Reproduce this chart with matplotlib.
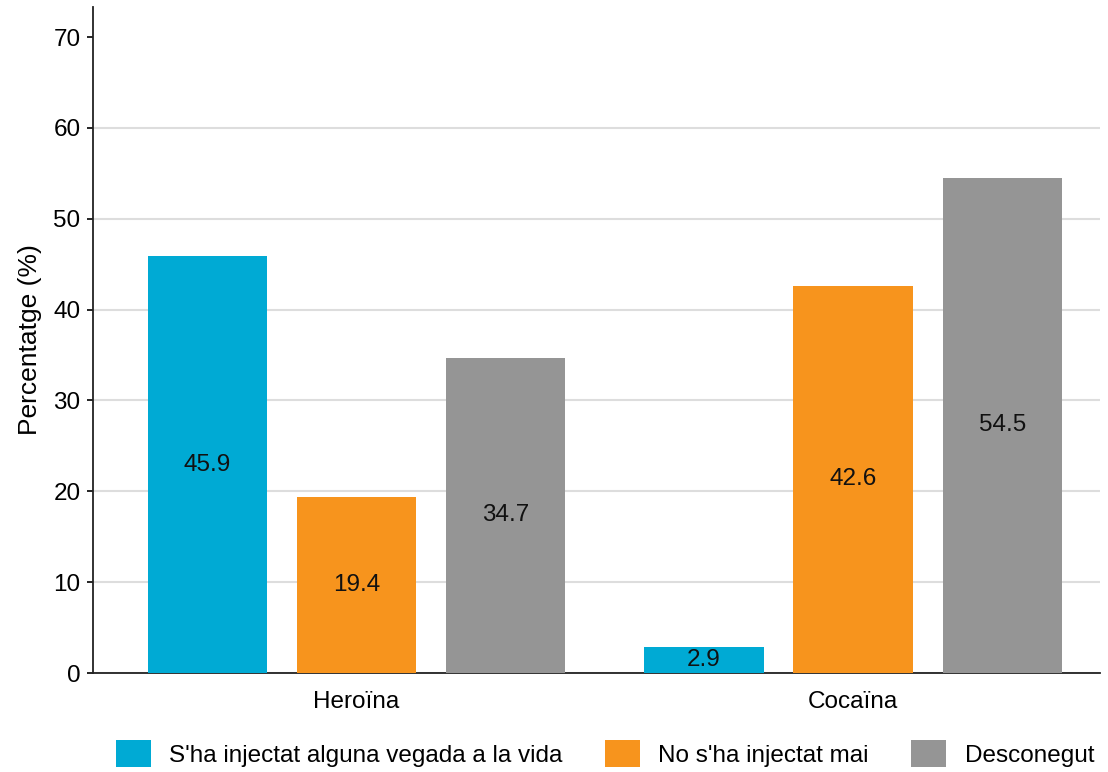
import matplotlib.pyplot as plt
import numpy as np

plt.rcParams['font.family'] = ['Liberation Sans', 'DejaVu Sans']

categories = ['Heroïna', 'Cocaïna']
series_names = ["S'ha injectat alguna vegada a la vida", "No s'ha injectat mai", 'Desconegut']
values = [
    [45.9, 2.9],   # S'ha injectat alguna vegada a la vida
    [19.4, 42.6],  # No s'ha injectat mai
    [34.7, 54.5],  # Desconegut
]
colors = ['#00AAD4', '#F7941D', '#959595']
yticks = [0, 10, 20, 30, 40, 50, 60, 70]

fig = plt.figure(figsize=(11.08, 7.72), dpi=100)
ax = fig.add_axes([0.0839, 0.1282, 0.9089, 0.8627])

x = np.arange(len(categories))
width = 0.24
offsets = [-0.3, 0.0, 0.3]
for vals, name, col, off in zip(values, series_names, colors, offsets):
    bars = ax.bar(x + off, vals, width, color=col, label=name, zorder=3)
    for b, v in zip(bars, vals):
        ax.text(b.get_x() + b.get_width() / 2, v / 2, f'{v:.1f}',
                ha='center', va='center', fontsize=17.5, color='#111111', zorder=4)

ax.set_xlim(-0.53, 1.497)
ax.set_ylim(0, 73.3)
ax.set_xticks(x)
ax.set_xticklabels(categories, fontsize=17.5)
ax.set_yticks(yticks)
ax.tick_params(axis='y', labelsize=17.5, length=4, width=1.2, pad=5)
ax.tick_params(axis='x', length=0, pad=13)
ax.set_ylabel('Percentatge (%)', fontsize=19, labelpad=8)

ax.grid(axis='y', color='#DDDDDD', linewidth=1.5, zorder=0)
ax.yaxis.get_gridlines()[-1].set_visible(False)
for s in ['top', 'right']:
    ax.spines[s].set_visible(False)
for s in ['left', 'bottom']:
    ax.spines[s].set_linewidth(1.3)
    ax.spines[s].set_color('#222222')

fig.legend(loc='center', bbox_to_anchor=(0.546, 0.024), ncol=3, frameon=False,
           fontsize=17.5, handlelength=1.44, handleheight=1.3, columnspacing=1.75,
           handletextpad=0.75)

plt.savefig('out.png', dpi=100)
